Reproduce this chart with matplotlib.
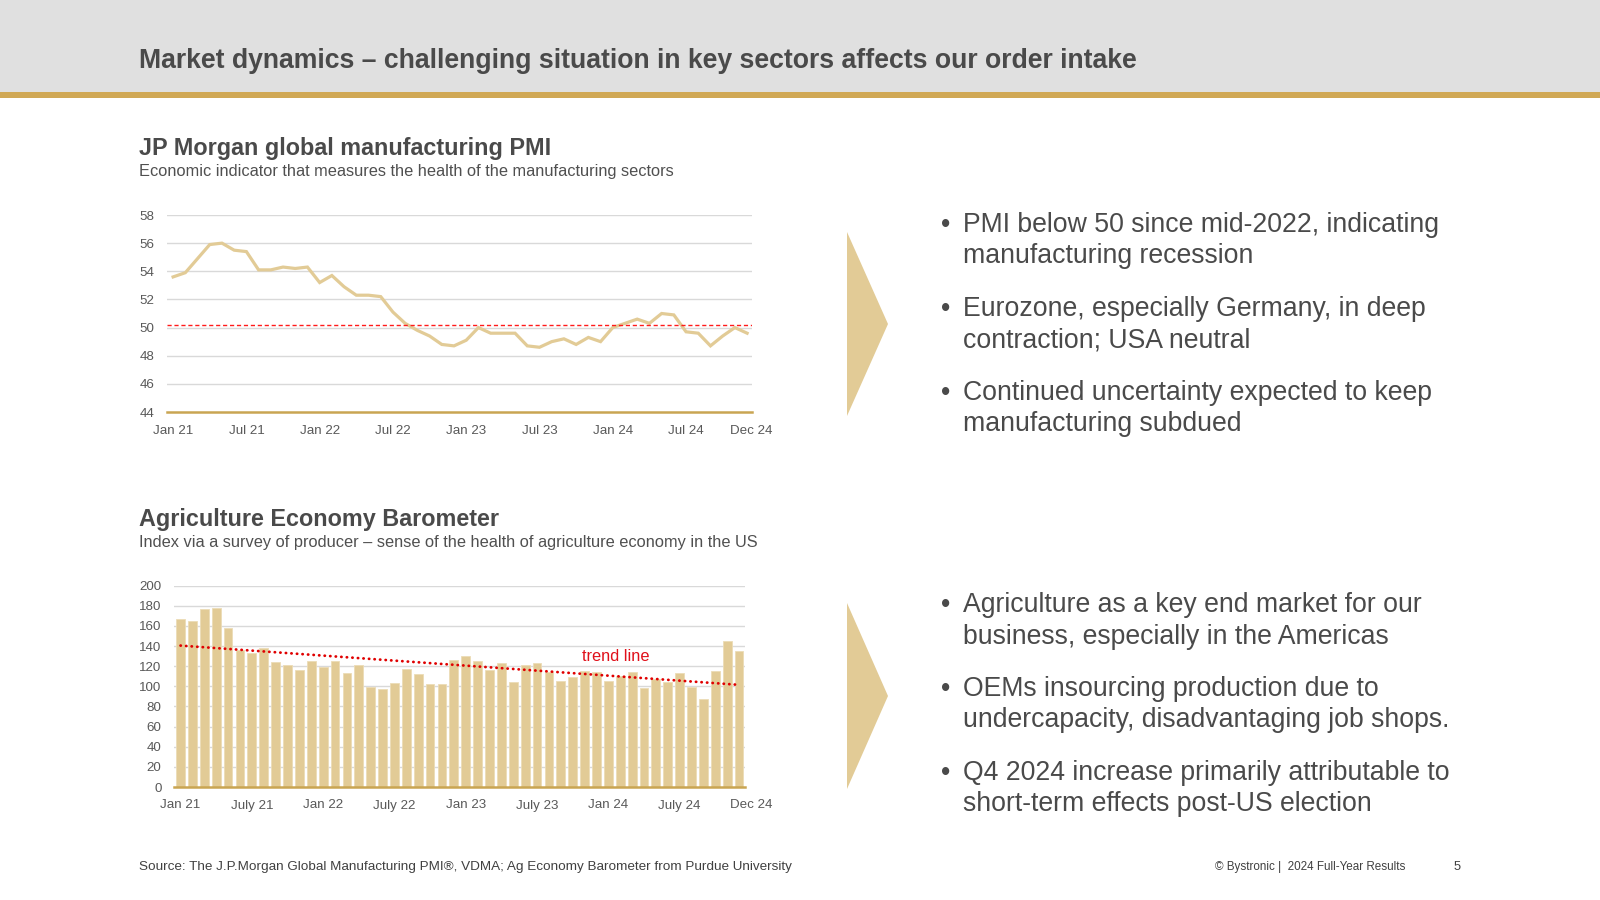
import numpy as np
import matplotlib
matplotlib.use("Agg")
import matplotlib.pyplot as plt
from matplotlib.patches import Rectangle, Polygon
import matplotlib.transforms as mtransforms

plt.rcParams['font.family'] = ['Liberation Sans', 'DejaVu Sans']

# ---- data ----
pmi = [53.6, 53.9, 54.9, 55.9, 56.0, 55.5, 55.4, 54.1, 54.1, 54.3, 54.2, 54.3,
       53.2, 53.7, 52.9, 52.3, 52.3, 52.2, 51.1, 50.3, 49.8, 49.4, 48.8, 48.7,
       49.1, 50.0, 49.6, 49.6, 49.6, 48.7, 48.6, 49.0, 49.2, 48.8, 49.3, 49.0,
       50.0, 50.3, 50.6, 50.3, 51.0, 50.9, 49.7, 49.6, 48.7, 49.4, 50.0, 49.6]
pmi_threshold = 50.2
pmi_ticks = [0, 6, 12, 18, 24, 30, 36, 42, 47]
pmi_ticklabels = ["Jan 21", "Jul 21", "Jan 22", "Jul 22", "Jan 23", "Jul 23",
                  "Jan 24", "Jul 24", "Dec 24"]

ag = [167, 165, 177, 178, 158, 136, 133, 138, 124, 121, 116, 125,
      119, 125, 113, 121, 99, 97, 103, 117, 112, 102, 102, 126,
      130, 125, 116, 123, 104, 121, 123, 114, 105, 109, 115, 114,
      105, 110, 114, 98, 107, 104, 113, 99, 87, 115, 145, 135]
ag_trend = [140.5, 101.5]   # trend line at first and last month
ag_ticks = [0, 6, 12, 18, 24, 30, 36, 42, 47]
ag_ticklabels = ["Jan 21", "July 21", "Jan 22", "July 22", "Jan 23", "July 23",
                 "Jan 24", "July 24", "Dec 24"]

bullets_top = [["PMI below 50 since mid-2022, indicating", "manufacturing recession"],
               ["Eurozone, especially Germany, in deep", "contraction; USA neutral"],
               ["Continued uncertainty expected to keep", "manufacturing subdued"]]
bullets_bottom = [["Agriculture as a key end market for our", "business, especially in the Americas"],
                  ["OEMs insourcing production due to", "undercapacity, disadvantaging job shops."],
                  ["Q4 2024 increase primarily attributable to", "short-term effects post-US election"]]

# colours
tan = "#e2cb96"
gold = "#c9a552"
grid = "#d9d9d9"
dark = "#4a4a4a"
tickc = "#595959"

W, H = 1600, 900
fig = plt.figure(figsize=(16, 9), dpi=100)
fig.patch.set_facecolor("white")

def fx(x):
    return x / W

def fy(y):
    return 1 - y / H

# header band
fig.patches.append(Rectangle((0, fy(92)), 1, 92 / H, transform=fig.transFigure,
                             facecolor="#e0e0e0", edgecolor="none", zorder=0))
fig.patches.append(Rectangle((0, fy(97.5)), 1, 5.5 / H, transform=fig.transFigure,
                             facecolor="#d0a855", edgecolor="none", zorder=1))
fig.text(fx(139), fy(61.5), "Market dynamics \u2013 challenging situation in key sectors affects our order intake",
         fontsize=19.2, fontweight="bold", color=dark, va="center")

# ---- top chart: PMI line ----
ax1 = fig.add_axes([fx(167), fy(412), 585 / W, 197 / H])
x = np.arange(len(pmi))
ax1.plot(x, pmi, color=tan, lw=2.3, solid_joinstyle="miter", zorder=3)
ax1.axhline(pmi_threshold, color="#ff1a1a", lw=1.0, ls=(0, (3, 2)), zorder=4)
ax1.set_ylim(44, 58)
ax1.set_xlim(-0.5, 47.4)
ax1.set_yticks(range(44, 59, 2))
ax1.set_xticks(pmi_ticks)
ax1.set_xticklabels(pmi_ticklabels)
for v in range(46, 59, 2):
    ax1.axhline(v, color=grid, lw=1.0, zorder=1)
ax1.axhline(44, color=gold, lw=1.8, zorder=5, clip_on=False)

# ---- bottom chart: ag barometer ----
ax2 = fig.add_axes([fx(174), fy(787), 571 / W, 201.3 / H])
xb = np.arange(len(ag))
ax2.bar(xb, ag, width=0.74, color=tan, edgecolor="#ecdcb6", linewidth=0.6, zorder=3)
ax2.plot([xb[0], xb[-1]], ag_trend, color="#e00000", lw=2.0, ls=(0, (0.1, 1.9)),
         dash_capstyle="round", zorder=4)
ax2.text(36.6, 129.5, "trend line", color="#e0101a", fontsize=11.8,
         ha="center", va="center", zorder=5)
ax2.set_ylim(0, 200)
ax2.set_xlim(-0.55, 47.5)
ax2.set_yticks(range(0, 201, 20))
ax2.set_xticks(ag_ticks)
ax2.set_xticklabels(ag_ticklabels)
for v in range(20, 201, 20):
    ax2.axhline(v, color=grid, lw=1.0, zorder=1)
ax2.axhline(0, color=gold, lw=1.8, zorder=5, clip_on=False)

# last label sits a bit right of the last point
for ax, shift in ((ax1, 4.5), (ax2, 12.5)):
    for s in ax.spines.values():
        s.set_visible(False)
    ax.tick_params(length=0, labelsize=9.6, labelcolor=tickc, pad=9)
    ax.set_facecolor("none")
    off = mtransforms.ScaledTranslation(shift / 100, 0, fig.dpi_scale_trans)
    lab = ax.get_xticklabels()[-1]
    lab.set_transform(lab.get_transform() + off)

# chart headings
fig.text(fx(139), fy(149), "JP Morgan global manufacturing PMI", fontsize=16.8,
         fontweight="bold", color=dark, va="center")
fig.text(fx(139), fy(171.5), "Economic indicator that measures the health of the manufacturing sectors",
         fontsize=11.8, color="#505050", va="center")
fig.text(fx(139), fy(519.5), "Agriculture Economy Barometer", fontsize=16.8,
         fontweight="bold", color=dark, va="center")
fig.text(fx(139), fy(542.5), "Index via a survey of producer \u2013 sense of the health of agriculture economy in the US",
         fontsize=11.8, color="#505050", va="center")

# arrows
for (y0, y1) in [(232, 416), (603, 789)]:
    tri = Polygon([(fx(847), fy(y0)), (fx(888), fy((y0 + y1) / 2)), (fx(847), fy(y1))],
                  closed=True, transform=fig.transFigure, facecolor=tan, edgecolor="none")
    fig.patches.append(tri)

# bullet text
def bullets(items, y_start):
    y = y_start
    for lines in items:
        fig.text(fx(941), fy(y), "\u2022", fontsize=19.2, color=dark, va="center")
        for i, ln in enumerate(lines):
            fig.text(fx(963), fy(y + 31.5 * i), ln, fontsize=19.2, color=dark, va="center")
        y += 83.8

bullets(bullets_top, 225)
bullets(bullets_bottom, 605)

# footer
fig.text(fx(139), fy(867), "Source: The J.P.Morgan Global Manufacturing PMI\u00ae, VDMA; Ag Economy Barometer from Purdue University",
         fontsize=9.7, color="#404040", va="center")
fig.text(fx(1405), fy(867), "\u00a9 Bystronic |  2024 Full-Year Results", fontsize=8.4,
         color="#404040", va="center", ha="right")
fig.text(fx(1461), fy(867), "5", fontsize=9.3, color="#404040", va="center", ha="right")

fig.savefig("out.png", dpi=100)
